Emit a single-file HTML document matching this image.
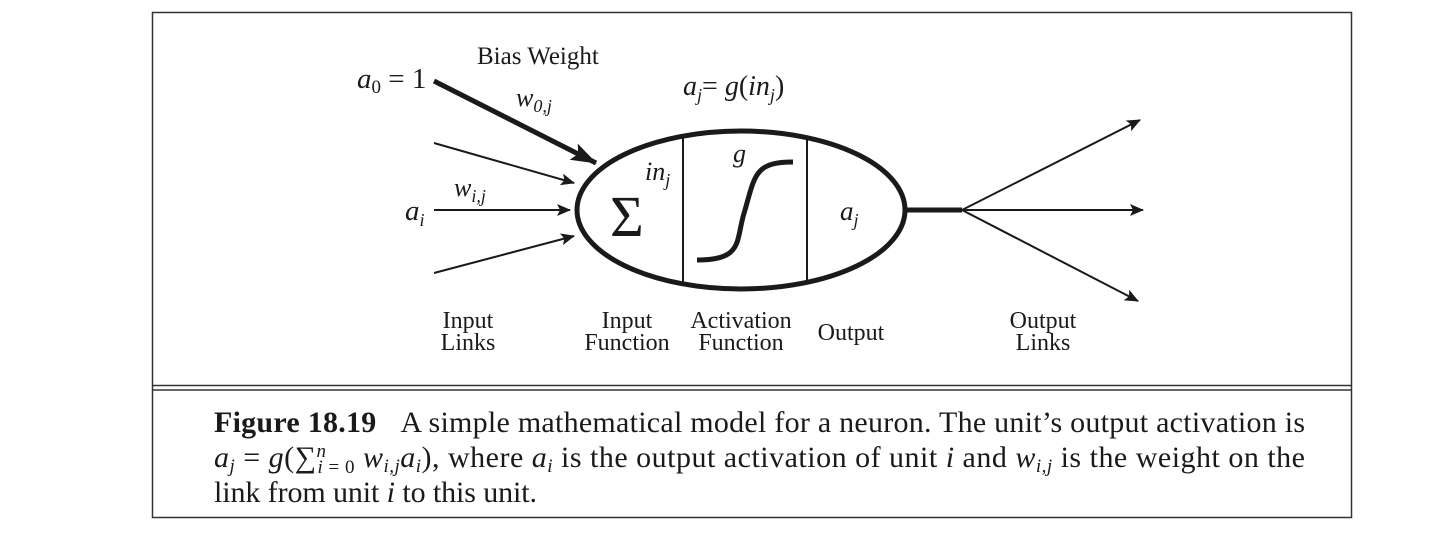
<!DOCTYPE html>
<html><head><style>
body{margin:0;background:#fff;}
svg{display:block;font-family:"Liberation Serif",serif;}
</style></head><body>
<svg width="1450" height="534" viewBox="0 0 1450 534">
<defs>
<marker id="ah2" markerWidth="14" markerHeight="12" refX="13" refY="6" orient="auto" markerUnits="userSpaceOnUse" viewBox="0 0 14 12"><path d="M0,0 L14,6 L0,12 L3,6z" fill="#1a1a1a"/></marker>
<marker id="ahb" markerWidth="26" markerHeight="18" refX="25" refY="9" orient="auto" markerUnits="userSpaceOnUse" viewBox="0 0 26 18"><path d="M0,0 L26,9 L0,18 L5,9z" fill="#1a1a1a"/></marker>
</defs>
<rect x="152.5" y="12.5" width="1199" height="505" fill="none" stroke="#333" stroke-width="1.5"/>
<line x1="152" y1="385.5" x2="1352" y2="385.5" stroke="#333" stroke-width="1.5"/>
<line x1="152" y1="390" x2="1352" y2="390" stroke="#333" stroke-width="1.5"/>
<g stroke="#1a1a1a" fill="none">
<line x1="434" y1="81" x2="596" y2="163" stroke-width="5" marker-end="url(#ahb)"/>
<line x1="434" y1="143" x2="574" y2="183" stroke-width="2" marker-end="url(#ah2)"/>
<line x1="434" y1="210" x2="570" y2="210" stroke-width="2" marker-end="url(#ah2)"/>
<line x1="434" y1="273" x2="574" y2="236" stroke-width="2" marker-end="url(#ah2)"/>
<ellipse cx="741" cy="210" rx="164" ry="79" stroke-width="5"/>
<line x1="683" y1="138" x2="683" y2="283" stroke-width="2"/>
<line x1="807" y1="138" x2="807" y2="283" stroke-width="2"/>
<path d="M697,260 C745,260 735,240 745,210 C755,175 755,162 793,162" stroke-width="5"/>
<line x1="905" y1="210" x2="962" y2="210" stroke-width="5"/>
<line x1="962" y1="210" x2="1140" y2="120" stroke-width="2" marker-end="url(#ah2)"/>
<line x1="962" y1="210" x2="1143" y2="210" stroke-width="2" marker-end="url(#ah2)"/>
<line x1="962" y1="210" x2="1138" y2="301" stroke-width="2" marker-end="url(#ah2)"/>
</g>
<g fill="#1a1a1a">
<text x="477" y="64" font-size="25">Bias Weight</text>
<text x="357" y="88" font-size="29"><tspan font-style="italic">a</tspan><tspan font-size="19" dy="5">0</tspan><tspan dy="-5"> = 1</tspan></text>
<text x="516" y="106" font-size="26" font-style="italic">w<tspan font-size="18" dy="6">0,j</tspan></text>
<text x="454" y="196" font-size="26" font-style="italic">w<tspan font-size="18" dy="6">i,j</tspan></text>
<text x="405" y="220" font-size="29" font-style="italic">a<tspan font-size="18" dy="6">i</tspan></text>
<text x="683" y="95" font-size="28"><tspan font-style="italic">a</tspan><tspan font-style="italic" font-size="18" dy="6">j</tspan><tspan dy="-6">= </tspan><tspan font-style="italic">g</tspan>(<tspan font-style="italic">in</tspan><tspan font-style="italic" font-size="18" dy="6">j</tspan><tspan dy="-6">)</tspan></text>
<text x="645" y="180" font-size="26" font-style="italic">in<tspan font-size="18" dy="6">j</tspan></text>
<text x="610" y="236" font-size="58">Σ</text>
<text x="733" y="162" font-size="26" font-style="italic">g</text>
<text x="840" y="220" font-size="27" font-style="italic">a<tspan font-size="18" dy="6">j</tspan></text>
<g font-size="24" text-anchor="middle">
<text x="468" y="328">Input</text><text x="468" y="350">Links</text>
<text x="627" y="328">Input</text><text x="627" y="350">Function</text>
<text x="741" y="328">Activation</text><text x="741" y="350">Function</text>
<text x="851" y="340">Output</text>
<text x="1043" y="328">Output</text><text x="1043" y="350">Links</text>
</g>
<g font-size="30">
<text x="214" y="432" textLength="1091" lengthAdjust="spacing"><tspan font-weight="bold">Figure 18.19</tspan><tspan dx="24">A simple mathematical model for a neuron. The unit’s output activation is</tspan></text>
<text x="214" y="467" textLength="1091" lengthAdjust="spacing"><tspan font-style="italic">a<tspan font-size="19" dy="5">j</tspan></tspan><tspan dy="-5"> = </tspan><tspan font-style="italic">g</tspan>(∑<tspan font-size="19" font-style="italic" dy="-10">n</tspan><tspan font-size="19" dx="-9" dy="16"><tspan font-style="italic">i</tspan> = 0</tspan><tspan dy="-6"> </tspan><tspan font-style="italic">w<tspan font-size="19" dy="5">i,j</tspan><tspan dy="-5">a</tspan><tspan font-size="19" dy="5">i</tspan></tspan><tspan dy="-5">), where </tspan><tspan font-style="italic">a<tspan font-size="19" dy="5">i</tspan></tspan><tspan dy="-5"> is the output activation of unit </tspan><tspan font-style="italic">i</tspan> and <tspan font-style="italic">w<tspan font-size="19" dy="5">i,j</tspan></tspan><tspan dy="-5"> is the weight on the</tspan></text>
<text x="214" y="502" textLength="323" lengthAdjust="spacing">link from unit <tspan font-style="italic">i</tspan> to this unit.</text>
</g>
</g>
</svg>
</body></html>
